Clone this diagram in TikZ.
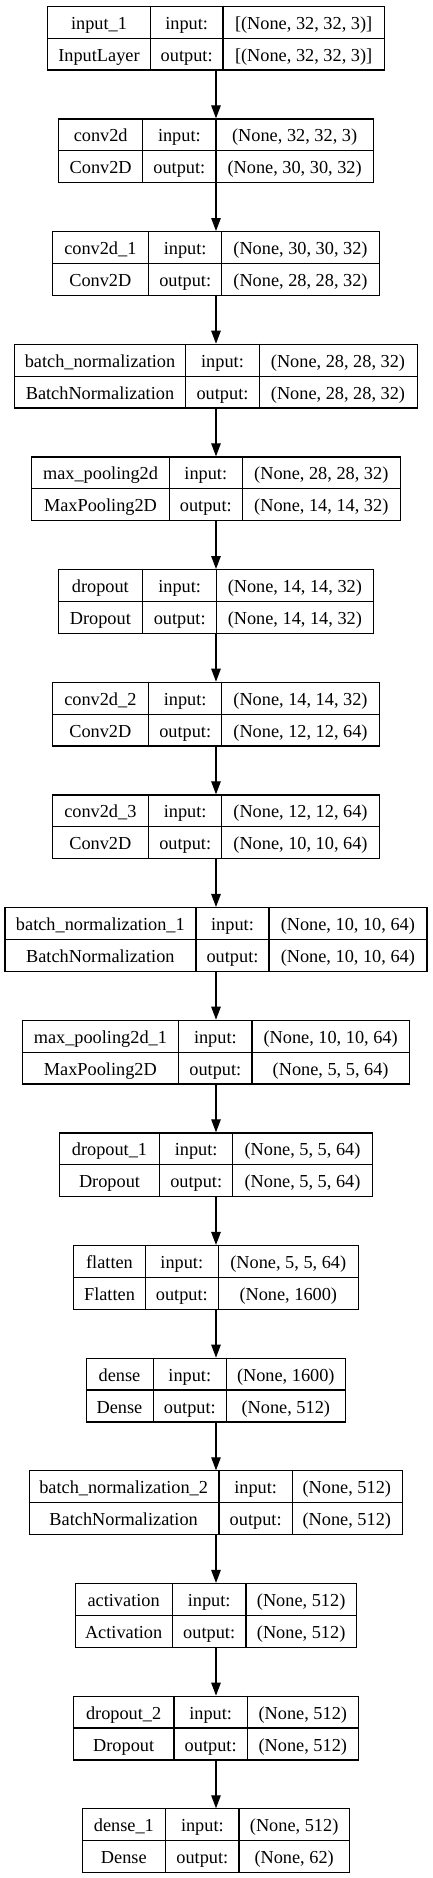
\documentclass[tikz,border=0pt]{standalone}
\usepackage{fontspec}
\setmainfont{Liberation Serif}
\newfontfamily\kserif{Liberation Serif}
\usetikzlibrary{arrows.meta}
\tikzset{
  layerbox/.style={draw=black, line width=1.2pt, rectangle, inner sep=0pt, anchor=north},
  cell/.style={font=\kserif\fontsize{18.3}{20}\selectfont, anchor=base, inner sep=0pt},
  arr/.style={line width=1.2pt, -{Triangle[length=13pt,width=9.5pt]}},
  sep/.style={line width=1.2pt},
}
\newcommand\klayer[9]{%
  \pgfmathsetmacro\kty{5.7+(#1-1)*112.66}%
  \pgfmathsetmacro\kby{\kty+63.7}%
  \pgfmathsetmacro\kw{#5-#2}%
  \node[layerbox, minimum width=\kw pt, minimum height=63.7pt] (b#1) at (216,\kty) {};
  \draw[sep] (b#1.west) -- (b#1.east);
  \draw[sep] (#3,\kty) -- (#3,\kby);
  \draw[sep] (#4,\kty) -- (#4,\kby);
  \node[cell] (na#1) at ({(#2+#3)/2},{\kty+23.6}) {#6};
  \node[cell] (nb#1) at ({(#2+#3)/2},{\kty+55.4}) {#7};
  \node[cell] (ia#1) at ({(#3+#4)/2},{\kty+23.6}) {input:};
  \node[cell] (ib#1) at ({(#3+#4)/2},{\kty+55.4}) {output:};
  \node[cell] (sa#1) at ({(#4+#5)/2},{\kty+23.6}) {#8};
  \node[cell] (sb#1) at ({(#4+#5)/2},{\kty+55.4}) {#9};
}
\begin{document}
\begin{tikzpicture}[x=1pt,y=-1pt]
\useasboundingbox (0,0) rectangle (432,1878);
\klayer{1}{47.7}{150.3}{223}{384.3}{input\_1}{InputLayer}{[(None, 32, 32, 3)]}{[(None, 32, 32, 3)]}
\klayer{2}{58.7}{142.7}{216}{373.3}{conv2d}{Conv2D}{(None, 32, 32, 3)}{(None, 30, 30, 32)}
\klayer{3}{52}{148.7}{221.7}{379.3}{conv2d\_1}{Conv2D}{(None, 30, 30, 32)}{(None, 28, 28, 32)}
\klayer{4}{14.3}{185.7}{259.3}{416.7}{batch\_normalization}{BatchNormalization}{(None, 28, 28, 32)}{(None, 28, 28, 32)}
\klayer{5}{31.7}{169.3}{242.3}{400.3}{max\_pooling2d}{MaxPooling2D}{(None, 28, 28, 32)}{(None, 14, 14, 32)}
\klayer{6}{58}{142.7}{216.7}{373}{dropout}{Dropout}{(None, 14, 14, 32)}{(None, 14, 14, 32)}
\klayer{7}{52}{148.7}{221.7}{379.3}{conv2d\_2}{Conv2D}{(None, 14, 14, 32)}{(None, 12, 12, 64)}
\klayer{8}{52}{148.7}{221.7}{379.3}{conv2d\_3}{Conv2D}{(None, 12, 12, 64)}{(None, 10, 10, 64)}
\klayer{9}{4.7}{196}{269}{426.7}{batch\_normalization\_1}{BatchNormalization}{(None, 10, 10, 64)}{(None, 10, 10, 64)}
\klayer{10}{22}{178.7}{252}{409.3}{max\_pooling2d\_1}{MaxPooling2D}{(None, 10, 10, 64)}{(None, 5, 5, 64)}
\klayer{11}{59.3}{159.7}{232.7}{372.3}{dropout\_1}{Dropout}{(None, 5, 5, 64)}{(None, 5, 5, 64)}
\klayer{12}{73.7}{145.3}{218.3}{358.3}{flatten}{Flatten}{(None, 5, 5, 64)}{(None, 1600)}
\klayer{13}{85.7}{153.3}{226.3}{345.3}{dense}{Dense}{(None, 1600)}{(None, 512)}
\klayer{14}{28.3}{219}{292.3}{401.3}{batch\_normalization\_2}{BatchNormalization}{(None, 512)}{(None, 512)}
\klayer{15}{75}{172.3}{246}{356.3}{activation}{Activation}{(None, 512)}{(None, 512)}
\klayer{16}{73.3}{174}{247.3}{358.3}{dropout\_2}{Dropout}{(None, 512)}{(None, 512)}
\klayer{17}{82}{165.7}{239}{349.3}{dense\_1}{Dense}{(None, 512)}{(None, 62)}
\foreach \i [evaluate=\i as \j using int(\i+1)] in {1,...,16} {
  \draw[arr] (b\i.south) -- (b\j.north);
}
\end{tikzpicture}
\end{document}
